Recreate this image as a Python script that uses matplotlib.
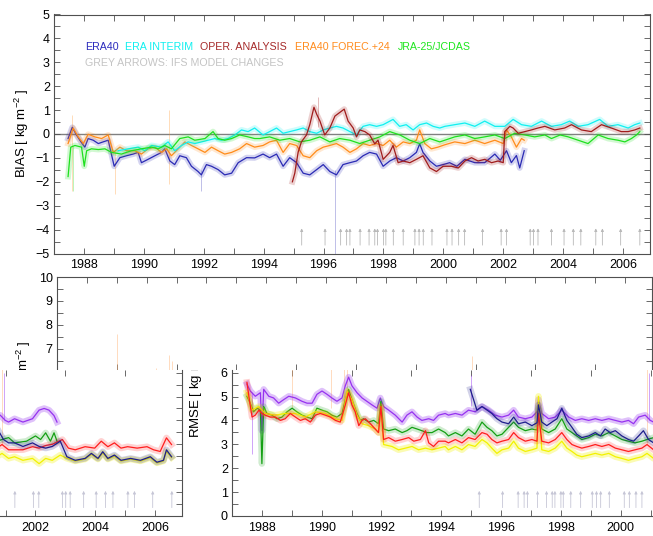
import matplotlib
matplotlib.use('Agg')
import matplotlib.pyplot as plt
from matplotlib.ticker import MultipleLocator, FixedLocator
from matplotlib.transforms import Bbox, TransformedBbox

plt.rcParams['font.family'] = ['Liberation Sans', 'DejaVu Sans']
plt.rcParams['mathtext.default'] = 'regular'

# ---------------- BIAS (upper chart) ----------------
era40_yr = [1987.47, 1987.61, 1987.75, 1987.9, 1988.03, 1988.14, 1988.31, 1988.48, 1988.64, 1988.81,
            1989.01, 1989.2, 1989.42, 1989.64, 1989.81, 1989.92, 1990.14, 1990.37, 1990.59, 1990.7,
            1990.87, 1991.03, 1991.2, 1991.42, 1991.59, 1991.81, 1991.92, 1992.09, 1992.26, 1992.48,
            1992.7, 1992.93, 1993.15, 1993.43, 1993.7, 1993.98, 1994.2, 1994.43, 1994.65, 1994.87,
            1995.1, 1995.32, 1995.54, 1995.77, 1995.99, 1996.21, 1996.43, 1996.65, 1996.88, 1997.1,
            1997.32, 1997.54, 1997.77, 1997.99, 1998.21, 1998.43, 1998.66, 1998.88, 1999.1, 1999.21,
            1999.32, 1999.55, 1999.77, 1999.99, 2000.21, 2000.45, 2000.72, 2001.05, 2001.38, 2001.72,
            2001.9, 2002.11, 2002.27, 2002.44, 2002.55, 2002.7]
era40_val = [-0.19, 0.28, -0.04, -0.33, -0.55, -0.19, -0.26, -0.40, -0.33, -0.26,
             -1.35, -0.99, -0.91, -0.84, -0.77, -1.20, -1.06, -0.91, -0.77, -0.62,
             -1.13, -1.28, -0.91, -0.99, -1.35, -1.57, -1.71, -1.28, -1.35, -1.49,
             -1.71, -1.64, -1.20, -0.99, -1.00, -0.84, -0.99, -0.84, -1.35, -0.99,
             -1.20, -1.64, -1.71, -1.49, -1.28, -1.57, -1.71, -1.28, -1.20, -1.13,
             -0.91, -0.77, -0.84, -1.35, -1.13, -0.99, -1.13, -0.99, -0.77, -0.41,
             -0.77, -1.13, -1.35, -1.28, -1.20, -1.35, -1.06, -1.20, -1.20, -0.84,
             -1.10, -0.70, -1.20, -0.90, -1.42, -0.70]

fc24_yr = [1987.47, 1987.64, 1987.81, 1987.98, 1988.14, 1988.36, 1988.59, 1988.81, 1988.98, 1989.2,
           1989.42, 1989.7, 1989.92, 1990.14, 1990.37, 1990.59, 1990.76, 1990.92, 1991.15, 1991.37,
           1991.59, 1991.81, 1992.04, 1992.26, 1992.48, 1992.7, 1992.93, 1993.2, 1993.43, 1993.7,
           1993.98, 1994.2, 1994.43, 1994.65, 1994.87, 1995.1, 1995.32, 1995.54, 1995.77, 1995.99,
           1996.21, 1996.43, 1996.65, 1996.88, 1997.1, 1997.32, 1997.54, 1997.77, 1997.99, 1998.21,
           1998.43, 1998.66, 1998.88, 1999.1, 1999.21, 1999.38, 1999.6, 1999.82, 2000.05, 2000.38,
           2000.72, 2001.05, 2001.38, 2001.72, 2002.0, 2002.11, 2002.27, 2002.44, 2002.61, 2002.7]
fc24_val = [-0.40, 0.25, -0.12, -0.40, -0.01, -0.12, -0.19, -0.04, -0.77, -0.55,
            -0.70, -0.70, -0.84, -0.62, -0.55, -0.77, -0.62, -0.91, -0.62, -0.33,
            -0.48, -0.62, -0.77, -0.55, -0.70, -0.84, -0.77, -0.62, -0.40, -0.55,
            -0.48, -0.33, -0.26, -0.77, -0.40, -0.48, -0.91, -0.99, -0.70, -0.55,
            -0.48, -0.40, -0.55, -0.77, -0.62, -0.40, -0.48, -0.40, -0.48, -0.26,
            -0.55, -0.33, -0.40, -0.26, 0.17, -0.40, -0.62, -0.55, -0.45, -0.33,
            -0.40, -0.26, -0.40, -0.26, -0.40, 0.17, -0.12, -0.55, -0.19, -0.26]

jra_yr = [1987.47, 1987.56, 1987.7, 1987.92, 1988.01, 1988.09, 1988.25, 1988.48, 1988.7, 1988.92,
          1989.25, 1989.59, 1989.92, 1990.26, 1990.48, 1990.7, 1990.92, 1991.2, 1991.48, 1991.7,
          1992.04, 1992.31, 1992.48, 1992.7, 1992.93, 1993.2, 1993.48, 1993.7, 1993.87, 1994.2,
          1994.54, 1994.87, 1995.21, 1995.54, 1995.88, 1996.21, 1996.54, 1996.88, 1997.21, 1997.54,
          1997.88, 1998.21, 1998.55, 1998.88, 1999.21, 1999.55, 1999.88, 2000.05, 2000.38, 2000.72,
          2001.05, 2001.38, 2001.72, 2002.05, 2002.38, 2002.72, 2003.05, 2003.39, 2003.61, 2003.9,
          2004.17, 2004.5, 2004.83, 2005.17, 2005.5, 2005.83, 2006.06, 2006.28, 2006.45, 2006.56]
jra_val = [-1.78, -0.55, -0.48, -0.55, -1.35, -0.70, -0.62, -0.65, -0.62, -0.77,
           -0.84, -0.70, -0.62, -0.55, -0.62, -0.48, -0.62, -0.19, -0.12, -0.26,
           -0.19, 0.10, -0.19, -0.26, -0.19, -0.04, -0.12, -0.19, -0.19, -0.12,
           -0.26, -0.19, -0.33, -0.26, -0.12, -0.33, -0.19, -0.26, -0.40, -0.26,
           -0.12, 0.10, -0.04, -0.26, -0.40, -0.19, -0.33, -0.26, -0.12, -0.04,
           -0.19, -0.12, -0.04, -0.19, 0.03, -0.04, -0.12, -0.04, -0.19, -0.04,
           -0.12, -0.26, -0.40, -0.04, -0.19, -0.26, -0.33, -0.19, -0.04, 0.10]

erai_yr = [1989.14, 1989.48, 1989.81, 1990.03, 1990.26, 1990.59, 1990.81, 1991.03, 1991.26, 1991.48,
           1991.7, 1991.93, 1992.15, 1992.37, 1992.59, 1992.81, 1993.04, 1993.26, 1993.48, 1993.7,
           1993.98, 1994.2, 1994.43, 1994.65, 1994.87, 1995.1, 1995.32, 1995.54, 1995.77, 1995.99,
           1996.21, 1996.43, 1996.65, 1996.88, 1997.1, 1997.32, 1997.54, 1997.77, 1997.99, 1998.32,
           1998.54, 1998.76, 1998.99, 1999.21, 1999.44, 1999.66, 1999.88, 2000.05, 2000.38, 2000.72,
           2001.05, 2001.38, 2001.72, 2002.05, 2002.33, 2002.61, 2002.94, 2003.28, 2003.61, 2003.94,
           2004.22, 2004.5, 2004.83, 2005.22, 2005.5, 2005.83, 2006.17, 2006.39, 2006.56]
erai_val = [-0.70, -0.62, -0.55, -0.70, -0.48, -0.55, -0.33, -0.70, -0.48, -0.33,
            -0.40, -0.33, -0.26, -0.19, -0.26, -0.19, -0.04, 0.17, 0.10, 0.25,
            -0.04, 0.10, 0.25, 0.03, 0.10, 0.17, 0.25, 0.10, 0.03, 0.17,
            0.25, 0.32, 0.25, 0.10, -0.04, 0.32, 0.39, 0.32, 0.39, 0.61,
            0.32, 0.39, 0.17, 0.39, 0.46, 0.32, 0.25, 0.32, 0.39, 0.46,
            0.32, 0.54, 0.32, 0.32, 0.61, 0.39, 0.32, 0.54, 0.32, 0.39,
            0.54, 0.32, 0.39, 0.61, 0.32, 0.39, 0.25, 0.39, 0.46]

oper_yr = [1994.96, 1995.04, 1995.15, 1995.26, 1995.43, 1995.54, 1995.68, 1995.77, 1995.88, 1996.04,
           1996.21, 1996.38, 1996.54, 1996.69, 1996.82, 1996.99, 1997.1, 1997.21, 1997.38, 1997.54,
           1997.71, 1997.82, 1997.99, 1998.21, 1998.32, 1998.49, 1998.66, 1998.88, 1999.1, 1999.32,
           1999.55, 1999.77, 1999.99, 2000.27, 2000.5, 2000.72, 2000.94, 2001.16, 2001.38, 2001.61,
           2001.83, 2002.0, 2002.05, 2002.22, 2002.33, 2002.5, 2002.72, 2002.94, 2003.16, 2003.39,
           2003.72, 2004.05, 2004.28, 2004.61, 2004.94, 2005.28, 2005.61, 2005.94, 2006.17, 2006.39,
           2006.56]
oper_val = [-2.00, -1.64, -0.77, -0.33, -0.04, 0.39, 1.12, 0.83, 0.54, -0.04,
            0.25, 0.75, 0.90, 1.04, 0.54, 0.25, -0.12, 0.17, 0.10, -0.04,
            -0.41, -0.26, -1.06, -0.77, -0.48, -1.20, -1.13, -1.20, -1.06, -0.91,
            -1.42, -1.57, -1.35, -1.35, -1.42, -1.13, -0.99, -1.13, -1.06, -1.20,
            -1.13, -1.20, 0.10, 0.32, 0.25, 0.03, 0.10, 0.17, 0.25, 0.32,
            0.17, 0.25, 0.39, 0.17, 0.10, 0.39, 0.25, 0.10, 0.10, 0.17,
            0.25]

# single raw excursions visible behind the smoothed curves
spk_top_yr = [1987.6, 1987.62, 1989.04, 1990.85, 1991.9, 1995.8, 1996.38]
spk_top_lo = [-2.4, -2.4, -2.5, -2.1, -2.4, 0.3, -5.2]
spk_top_hi = [0.8, -0.5, -0.7, 1.0, -1.5, 1.55, -1.5]
spk_top_col = ['#ff8c1a', '#1ee01e', '#ff8c1a', '#ff8c1a', '#2a2ab4', '#a01c1c', '#2a2ab4']

# IFS model changes (grey arrows)
model_changes = [1995.27, 1996.05, 1996.57, 1996.77, 1996.88, 1997.22, 1997.52, 1997.71, 1997.8,
                 1998.0, 1998.08, 1998.33, 1998.66, 1999.05, 1999.19, 1999.33, 1999.62, 2000.12,
                 2000.29, 2000.51, 2000.71, 2001.31, 2001.93, 2002.11, 2002.9, 2003.01, 2003.16,
                 2003.61, 2004.03, 2004.34, 2004.59, 2005.09, 2005.31, 2005.92, 2006.56]

# ---------------- RMSE (lower chart) ----------------
purp_yr = [1987.5, 1987.61, 1987.78, 1987.95, 1988.0, 1988.06, 1988.23, 1988.39, 1988.56, 1988.73,
           1988.9, 1989.12, 1989.34, 1989.51, 1989.68, 1989.84, 1990.01, 1990.18, 1990.34, 1990.51,
           1990.68, 1990.79, 1990.9, 1991.01, 1991.18, 1991.35, 1991.51, 1991.68, 1991.85, 1991.96,
           1992.07, 1992.24, 1992.46, 1992.69, 1992.85, 1993.02, 1993.19, 1993.35, 1993.58, 1993.74,
           1993.91, 1994.13, 1994.24, 1994.47, 1994.69, 1994.91, 1995.13, 1995.36, 1995.58, 1995.8,
           1996.03, 1996.25, 1996.42, 1996.58, 1996.81, 1997.03, 1997.2, 1997.25, 1997.36, 1997.59,
           1997.81, 1998.03, 1998.26, 1998.48, 1998.7, 1998.93, 1999.15, 1999.37, 1999.6, 1999.82,
           2000.04, 2000.26, 2000.43, 2000.6, 2000.82, 2000.99, 2001.1, 2001.3, 2001.58, 2001.9,
           2002.12, 2002.29, 2002.45, 2002.62, 2002.72]
purp_val = [5.52, 5.23, 5.01, 5.16, 3.57, 5.30, 5.01, 4.94, 4.72, 4.87,
            5.01, 4.94, 4.80, 4.72, 4.72, 5.09, 5.23, 5.09, 4.94, 4.80,
            4.94, 5.45, 5.81, 5.45, 5.16, 4.94, 4.80, 4.65, 4.51, 4.94,
            4.58, 4.43, 4.22, 3.93, 4.22, 4.36, 4.14, 4.00, 4.07, 4.00,
            4.22, 4.29, 4.22, 4.29, 4.22, 4.43, 4.36, 4.58, 4.43, 4.22,
            4.14, 4.22, 4.43, 4.14, 4.07, 4.14, 4.36, 4.87, 4.29, 4.07,
            4.14, 4.43, 4.14, 4.00, 4.07, 4.00, 4.07, 4.00, 4.07, 4.00,
            3.93, 4.00, 3.86, 4.14, 4.22, 4.00, 3.93, 4.07, 3.93, 4.07,
            4.43, 4.50, 4.43, 4.20, 3.93]

grn_yr = [1987.5, 1987.61, 1987.72, 1987.84, 1987.95, 1988.0, 1988.06, 1988.17, 1988.34, 1988.5,
          1988.67, 1988.84, 1989.01, 1989.17, 1989.34, 1989.51, 1989.68, 1989.84, 1990.01, 1990.18,
          1990.34, 1990.51, 1990.68, 1990.79, 1990.9, 1991.01, 1991.18, 1991.29, 1991.4, 1991.57,
          1991.74, 1991.9, 1991.98, 1992.07, 1992.24, 1992.46, 1992.69, 1992.85, 1993.02, 1993.19,
          1993.35, 1993.52, 1993.69, 1993.91, 1994.13, 1994.24, 1994.47, 1994.69, 1994.91, 1995.13,
          1995.36, 1995.53, 1995.69, 1995.86, 1996.03, 1996.25, 1996.42, 1996.58, 1996.81, 1997.03,
          1997.2, 1997.25, 1997.36, 1997.59, 1997.81, 1998.03, 1998.2, 1998.37, 1998.53, 1998.7,
          1998.93, 1999.15, 1999.37, 1999.6, 1999.82, 2000.04, 2000.26, 2000.48, 2000.71, 2000.88,
          2001.1, 2001.3, 2001.7, 2002.0, 2002.17, 2002.34, 2002.5, 2002.62, 2002.72]
grn_val = [5.01, 4.72, 4.36, 4.51, 4.43, 2.19, 4.58, 4.29, 4.22, 4.07,
           4.14, 4.36, 4.51, 4.36, 4.22, 4.14, 4.07, 4.51, 4.43, 4.36,
           4.22, 4.14, 4.29, 4.87, 5.30, 4.87, 4.29, 4.00, 4.07, 3.93,
           4.00, 3.86, 4.80, 3.64, 3.57, 3.64, 3.49, 3.57, 3.71, 3.64,
           3.57, 3.49, 3.49, 3.64, 3.49, 3.35, 3.49, 3.35, 3.64, 3.42,
           3.93, 3.71, 3.57, 3.35, 3.42, 3.71, 3.93, 3.71, 3.57, 3.64,
           3.60, 4.51, 3.64, 3.49, 3.64, 4.07, 3.64, 3.49, 3.35, 3.20,
           3.28, 3.42, 3.35, 3.49, 3.35, 3.20, 3.13, 3.06, 3.13, 3.20,
           3.28, 3.06, 3.13, 3.35, 3.20, 3.48, 3.13, 3.48, 3.13]

red_yr = [1987.5, 1987.58, 1987.67, 1987.78, 1987.9, 1988.0, 1988.11, 1988.28, 1988.45, 1988.62,
          1988.78, 1988.95, 1989.12, 1989.29, 1989.45, 1989.62, 1989.79, 1989.95, 1990.12, 1990.29,
          1990.46, 1990.62, 1990.79, 1990.9, 1991.01, 1991.12, 1991.24, 1991.35, 1991.46, 1991.63,
          1991.79, 1991.9, 1991.98, 1992.07, 1992.24, 1992.46, 1992.69, 1992.91, 1993.08, 1993.3,
          1993.47, 1993.58, 1993.74, 1993.91, 1994.13, 1994.24, 1994.47, 1994.69, 1994.91, 1995.13,
          1995.36, 1995.53, 1995.69, 1995.86, 1996.03, 1996.25, 1996.42, 1996.58, 1996.81, 1997.03,
          1997.2, 1997.25, 1997.36, 1997.59, 1997.81, 1998.03, 1998.2, 1998.37, 1998.53, 1998.7,
          1998.93, 1999.15, 1999.37, 1999.6, 1999.82, 2000.04, 2000.26, 2000.48, 2000.71, 2000.88,
          2001.1, 2001.3, 2001.58, 2001.9, 2002.12, 2002.34, 2002.56, 2002.9, 2003.1, 2003.33,
          2003.66, 2003.98, 2004.2, 2004.42, 2004.64, 2004.86, 2005.08, 2005.4, 2005.73, 2005.95,
          2006.17, 2006.38, 2006.55]
red_val = [5.59, 4.87, 4.14, 4.22, 4.43, 4.29, 4.22, 4.14, 4.14, 4.00,
           4.07, 4.29, 4.14, 4.00, 4.07, 3.93, 4.22, 4.29, 4.22, 4.14,
           4.00, 3.93, 4.65, 5.16, 4.65, 4.36, 3.78, 4.00, 4.07, 3.86,
           3.64, 3.49, 4.58, 3.20, 3.28, 3.13, 3.20, 3.28, 3.13, 3.20,
           3.57, 3.06, 2.91, 3.13, 3.13, 3.06, 3.20, 3.06, 3.28, 3.20,
           3.49, 3.42, 3.20, 3.06, 3.13, 3.20, 3.49, 3.28, 3.13, 3.20,
           3.13, 4.29, 3.13, 3.06, 3.20, 3.49, 3.20, 2.99, 2.91, 2.84,
           2.91, 2.99, 2.91, 2.99, 2.84, 2.77, 2.70, 2.77, 2.84, 2.99,
           2.77, 2.77, 2.77, 2.90, 2.84, 2.95, 3.00, 3.20, 2.84, 2.77,
           2.90, 2.84, 3.13, 2.90, 3.06, 2.84, 2.90, 2.84, 2.90, 2.77,
           2.70, 3.27, 2.99]

yel_yr = [1987.5, 1987.67, 1987.89, 1988.11, 1988.45, 1988.78, 1989.12, 1989.45, 1989.79, 1990.12,
          1990.46, 1990.68, 1990.85, 1991.01, 1991.18, 1991.35, 1991.57, 1991.79, 1991.9, 1991.98,
          1992.07, 1992.35, 1992.57, 1992.8, 1993.02, 1993.24, 1993.47, 1993.69, 1993.91, 1994.13,
          1994.24, 1994.47, 1994.69, 1994.91, 1995.13, 1995.36, 1995.53, 1995.69, 1995.86, 1996.03,
          1996.25, 1996.42, 1996.58, 1996.81, 1997.03, 1997.2, 1997.25, 1997.36, 1997.59, 1997.81,
          1998.03, 1998.2, 1998.37, 1998.53, 1998.7, 1998.93, 1999.15, 1999.37, 1999.6, 1999.82,
          2000.04, 2000.26, 2000.48, 2000.71, 2000.88, 2001.1, 2001.3, 2001.58, 2001.9, 2002.12,
          2002.34, 2002.56, 2002.83, 2003.05, 2003.33, 2003.66, 2003.87, 2004.09, 2004.25, 2004.42,
          2004.64, 2004.86, 2005.18, 2005.51, 2005.84, 2006.06, 2006.28, 2006.38, 2006.55]
yel_val = [5.16, 4.43, 4.58, 4.29, 4.22, 4.29, 4.29, 4.14, 4.36, 4.29,
           4.07, 4.00, 5.23, 4.87, 4.22, 3.86, 3.78, 3.64, 3.49, 4.58,
           2.99, 2.91, 2.77, 2.84, 2.91, 2.77, 2.84, 2.77, 2.84, 2.91,
           2.77, 2.91, 2.77, 2.99, 2.91, 3.20, 3.06, 2.84, 2.62, 2.77,
           2.84, 3.13, 2.84, 2.70, 2.77, 2.84, 5.01, 2.77, 2.70, 2.84,
           3.13, 2.84, 2.70, 2.55, 2.48, 2.55, 2.62, 2.55, 2.62, 2.48,
           2.41, 2.33, 2.41, 2.48, 2.62, 2.41, 2.48, 2.33, 2.41, 2.19,
           2.41, 2.33, 2.55, 2.41, 2.30, 2.38, 2.58, 2.38, 2.64, 2.38,
           2.50, 2.30, 2.38, 2.30, 2.44, 2.22, 2.30, 2.70, 2.45]

navy_yr = [1994.97, 1995.08, 1995.19, 1995.36, 1995.53, 1995.69, 1995.86, 1996.03, 1996.25, 1996.42,
           1996.58, 1996.81, 1997.03, 1997.2, 1997.25, 1997.36, 1997.53, 1997.7, 1997.87, 1998.03,
           1998.2, 1998.37, 1998.53, 1998.7, 1998.93, 1999.15, 1999.32, 1999.48, 1999.65, 1999.82,
           2000.04, 2000.26, 2000.43, 2000.6, 2000.76, 2000.93, 2001.1, 2001.3, 2001.58, 2001.9,
           2002.12, 2002.34, 2002.56, 2002.83, 2003.05, 2003.33, 2003.66, 2003.87, 2004.09, 2004.25,
           2004.42, 2004.64, 2004.86, 2005.18, 2005.51, 2005.84, 2006.06, 2006.28, 2006.38, 2006.55]
navy_val = [5.30, 4.87, 4.43, 4.58, 4.43, 4.29, 4.07, 3.93, 3.86, 4.14,
            3.86, 3.93, 3.78, 3.90, 4.65, 3.93, 3.78, 3.93, 4.07, 4.51,
            4.00, 3.71, 3.42, 3.28, 3.35, 3.49, 3.35, 3.64, 3.49, 3.57,
            3.35, 3.20, 3.13, 3.35, 3.57, 3.20, 3.06, 3.06, 2.91, 3.06,
            2.91, 2.84, 2.91, 3.13, 2.48, 2.33, 2.41, 2.62, 2.41, 2.69,
            2.41, 2.55, 2.33, 2.41, 2.33, 2.48, 2.25, 2.33, 2.77, 2.48]

spk_bot_yr = [1987.67, 1989.02, 1990.3, 1990.75, 1990.84, 1995.0, 2000.87, 2000.95]
spk_bot_lo = [2.6, 4.5, 4.5, 5.0, 5.0, 4.6, 3.0, 4.0]
spk_bot_hi = [5.2, 7.6, 6.2, 6.75, 6.5, 5.9, 6.7, 6.0]
spk_bot_col = ['#9632f0', '#ffb070', '#ffb070', '#ffb070', '#ffb070', '#9632f0', '#ffb070', '#9632f0']

W, H = 653, 536
fig = plt.figure(figsize=(W / 100, H / 100), dpi=100)


def px_axes(left, top, right, bottom):
    return fig.add_axes([left / W, 1 - bottom / H, (right - left) / W, (bottom - top) / H])


def style(ax, ymaj=1, xlabels=True, ylabels=True):
    ax.xaxis.set_major_locator(MultipleLocator(2))
    ax.xaxis.set_minor_locator(MultipleLocator(1))
    ax.yaxis.set_major_locator(MultipleLocator(ymaj))
    ax.yaxis.set_minor_locator(MultipleLocator(0.5))
    ax.tick_params(which='both', direction='in', length=4.5, width=0.6, color='#505050',
                   top=True, right=True, labelsize=9, labelbottom=xlabels, labelleft=ylabels)
    ax.tick_params(axis='x', pad=4)
    ax.tick_params(axis='y', pad=3)
    for s in ax.spines.values():
        s.set_color('#505050')
        s.set_linewidth(0.8)


def series(ax, yr, val, color, halo=0.2, hw=4.2):
    ax.plot(yr, val, color=color, lw=hw, alpha=halo, solid_joinstyle='round')
    ax.plot(yr, val, color=color, lw=0.9)


def arrows(ax, lo, hi, color):
    for d in model_changes:
        ax.annotate('', xy=(d, hi), xytext=(d, lo),
                    arrowprops=dict(arrowstyle='-|>', color=color, lw=0.6,
                                    mutation_scale=4, shrinkA=0, shrinkB=0))


# ---- upper chart: BIAS ----
ax = px_axes(54, 14.5, 650, 253.5)
ax.set_xlim(1987.0, 2006.9)
ax.set_ylim(-5, 5)
style(ax)
ax.axhline(0, color='#808080', lw=1.0, zorder=1)
ax.vlines(spk_top_yr, spk_top_lo, spk_top_hi, colors=spk_top_col, lw=0.7, alpha=0.3)
series(ax, era40_yr, era40_val, '#2a2ab4')
series(ax, fc24_yr, fc24_val, '#ff8c1a')
series(ax, erai_yr, erai_val, '#10f0f0')
series(ax, jra_yr, jra_val, '#1ee01e')
series(ax, oper_yr, oper_val, '#a01c1c')
arrows(ax, -4.65, -3.95, '#b8b8b8')
fig.text(22 / W, 1 - 133 / H, 'BIAS [ kg m$^{-2}$ ]', rotation=90, ha='center', va='center',
         fontsize=9.5)

legend = [('ERA40', '#2b2bbd', 85), ('ERA INTERIM', '#10f0f0', 125),
          ('OPER. ANALYSIS', '#a52a2a', 200), ('ERA40 FOREC.+24', '#ff8c1e', 295),
          ('JRA-25/JCDAS', '#1ee61e', 398)]
for name, col, x in legend:
    fig.text(x / W, 1 - 46.5 / H, name, color=col, fontsize=7.7, va='center', ha='left')
fig.text(85 / W, 1 - 63 / H, 'GREY ARROWS: IFS MODEL CHANGES', color='#c4c4c4', fontsize=7.7,
         va='center', ha='left')

# ---- lower chart: RMSE, shown wrapped (top strip + two shifted halves) ----
CUT = 370
clip_above = TransformedBbox(Bbox([[0, 1 - CUT / H], [1, 1]]), fig.transFigure)
clip_below = TransformedBbox(Bbox([[0, 0], [1, 1 - CUT / H]]), fig.transFigure)

bot = [(purp_yr, purp_val, '#9632f0', 0.3), (grn_yr, grn_val, '#14a014', 0.2),
       (yel_yr, yel_val, '#f2f200', 0.3), (red_yr, red_val, '#ff1e1e', 0.2),
       (navy_yr, navy_val, '#1e1e8c', 0.2)]

ax_b = px_axes(57, 277, 652, CUT)
ax_b.set_xlim(1987.0, 2006.9)
ax_b.set_ylim(10 - (CUT - 277) / 23.9, 10)
style(ax_b, xlabels=False)
ax_b.spines['bottom'].set_visible(False)
ax_b.tick_params(bottom=False)
ax_l = px_axes(182 - 595, CUT, 182, 516)
ax_r = px_axes(232, CUT, 232 + 595, 516)
for a in (ax_l, ax_r):
    a.set_xlim(1987.0, 2006.9)
    a.set_ylim(0, (516 - CUT) / 23.9)
    style(a, ylabels=(a is ax_r))
    a.spines['top'].set_visible(False)
    a.tick_params(top=False)
ax_l.xaxis.set_major_locator(FixedLocator([2002, 2004, 2006]))
ax_r.xaxis.set_major_locator(FixedLocator([1988, 1990, 1992, 1994, 1996, 1998, 2000]))
for a in (ax_b, ax_l, ax_r):
    a.vlines(spk_bot_yr, spk_bot_lo, spk_bot_hi, colors=spk_bot_col, lw=0.7, alpha=0.45)
    for yr, val, col, h in bot:
        series(a, yr, val, col, h, 4.6)
for a in (ax_l, ax_r):
    arrows(a, 0.35, 1.05, '#c6c6d6')

t1 = fig.text(24 / W, 1 - 389 / H, 'RMSE [ kg m$^{-2}$ ]', rotation=90, ha='center',
              va='center', fontsize=9.5)
t1.set_clip_box(clip_above)
t1.set_clip_on(True)
t2 = fig.text(196 / W, 1 - 389 / H, 'RMSE [ kg m$^{-2}$ ]', rotation=90, ha='center',
              va='center', fontsize=9.5)
t2.set_clip_box(clip_below)
t2.set_clip_on(True)

fig.savefig('out.png', dpi=100)
